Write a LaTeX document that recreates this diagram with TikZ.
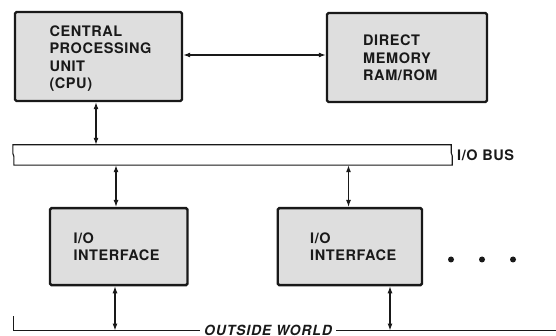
\documentclass[tikz,border=0pt]{standalone}
\usepackage{fontspec}
\setmainfont{TeX Gyre Heros}
\usetikzlibrary{arrows.meta}
\definecolor{ink}{gray}{0.1}
\definecolor{boxfill}{gray}{0.87}
\tikzset{
  blk/.style={draw=ink, fill=boxfill, line width=2.4pt, rounded corners=1.5pt, inner sep=0pt},
  lbl/.style={anchor=north west, inner sep=0pt, align=left, text=ink,
    font=\fontsize{14.5}{17.5}\selectfont\bfseries\addfontfeatures{LetterSpace=4}},
  bi/.style={draw=ink, line width=1.1pt, {Latex[length=7pt,width=5pt]}-{Latex[length=7pt,width=5pt]}},
  thin/.style={draw=ink, line width=1.1pt},
  dot/.style={circle, fill=ink, inner sep=0pt, minimum size=6pt}
}
\begin{document}
\begin{tikzpicture}[x=1pt,y=-1pt]
\useasboundingbox (0,0) rectangle (556,336);

% processor and memory
\node[blk, minimum width=167pt, minimum height=89pt] (cpu) at (98.5,56.5) {};
\node[blk, minimum width=160pt, minimum height=89pt] (dm) at (407,57.5) {};
\node[lbl] (cputxt) at (49.3,25.1) {CENTRAL\\PROCESSING\\UNIT\\(CPU)};
\node[lbl] (dmtxt) at (363,34.8) {DIRECT\\MEMORY\\RAM/ROM};

% I/O bus, with break marks at both ends
\node[minimum width=437pt, minimum height=20pt, inner sep=0pt, fill=white] (bus) at (232.5,155) {};
\draw[thin] (bus.north west) -- (bus.north east) -- ++(0,8) -- ++(1,3) -- ([xshift=1pt]bus.south east)
  -- (bus.south west) -- ++(0,-9) -- ++(-1,-3) -- ([xshift=-1pt]bus.north west) -- cycle;
\node[anchor=west, inner sep=0pt, text=ink,
  font=\fontsize{14.5}{16}\selectfont\bfseries\addfontfeatures{LetterSpace=4}] (buslbl) at (457,155) {I/O BUS};

% interfaces
\node[blk, minimum width=137.5pt, minimum height=77pt] (io1) at (118.75,246.6) {};
\node[blk, minimum width=144.3pt, minimum height=77pt] (io2) at (349.85,246.6) {};
\node[lbl] (io1txt) at (73.3,232.5) {I/O\\INTERFACE};
\node[lbl] (io2txt) at (310,232.5) {I/O\\INTERFACE};

\node[dot] (d1) at (451,259.5) {};
\node[dot] (d2) at (482,259.5) {};
\node[dot] (d3) at (513,259.5) {};

% outside world line
\node[inner sep=4pt, text=ink,
  font=\fontsize{14}{16}\selectfont\bfseries\itshape\addfontfeatures{LetterSpace=6}] (world) at (268,330.5) {OUTSIDE WORLD};
\coordinate (tick) at (13.3,316);
\coordinate (wend) at (556,330.5);
\draw[thin] (tick) |- (world.west);
\draw[thin] (world.east) -- (wend);

% connector positions
\coordinate (xa) at (96,0);
\coordinate (xb) at (116,0);
\coordinate (xc) at (348.5,0);
\coordinate (xd) at (115,0);
\coordinate (xe) at (390,0);

\draw[bi] ([yshift=1.5pt]cpu.east) -- ([yshift=2.5pt]dm.west);
\draw[bi] (xa |- cpu.south) -- (xa |- bus.north);
\draw[bi] (xb |- bus.south) -- (xb |- io1.north);
\draw[bi] (xc |- bus.south) -- (xc |- io2.north);
\draw[bi] (xd |- io1.south) -- (xd |- world.west);
\draw[bi] (xe |- io2.south) -- (xe |- world.west);
\end{tikzpicture}
\end{document}
